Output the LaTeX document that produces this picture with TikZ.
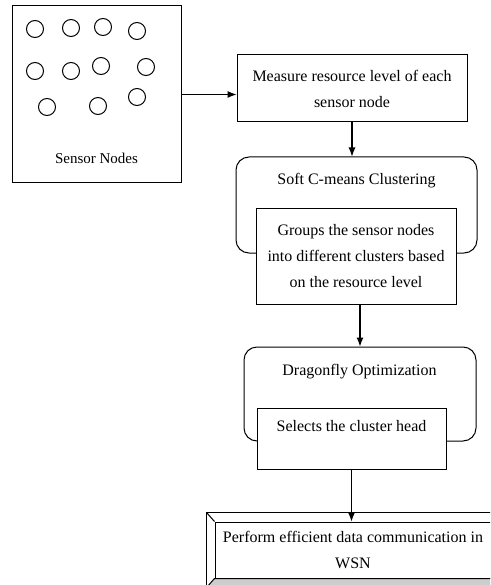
\documentclass[tikz,border=0pt]{standalone}
\usepackage{fontspec}
\setmainfont{Liberation Serif}
\usepackage{tikz}
\usetikzlibrary{arrows.meta}
\definecolor{bevelgray}{RGB}{205,205,205}

\begin{document}
\begin{tikzpicture}[x=1pt,y=-1pt,line width=1pt,>={Latex[length=9pt,width=7pt]},
    font=\fontsize{16}{26}\selectfont,
    sensor/.style={circle,draw,minimum size=17pt,inner sep=0pt},
    stepbox/.style={rectangle,draw,fill=white,align=center},
    groupbox/.style={rectangle,draw,rounded corners=13pt},
    flow/.style={line width=1.1pt,->}]
\useasboundingbox (0,0) rectangle (490,585);
\clip (0,0) rectangle (490,585);
% sensor field
\node (sensors) at (96.5,94.5) [rectangle,draw,minimum width=169,minimum height=177] {};
\node (s1)  at (35,29)  [sensor] {};
\node (s2)  at (71,28)  [sensor] {};
\node (s3)  at (103,27) [sensor] {};
\node (s4)  at (137,31) [sensor] {};
\node (s5)  at (35,71)  [sensor] {};
\node (s6)  at (71,71)  [sensor] {};
\node (s7)  at (101,66) [sensor] {};
\node (s8)  at (146,67) [sensor] {};
\node (s9)  at (47,107) [sensor] {};
\node (s10) at (98,106) [sensor] {};
\node (s11) at (137,97) [sensor] {};
\node (sensorlabel) at (96.5,158) [font=\fontsize{15}{20}\selectfont] {Sensor Nodes};
% processing steps
\node (measure) at (352,88.5) [stepbox,minimum width=230,minimum height=67]
    {Measure resource level of each\\ sensor node};
\node (soft) at (356.5,205) [groupbox,minimum width=241,minimum height=96] {};
\node (softtitle) at (356.5,181) {Soft C-means Clustering};
\node (groups) at (356,256) [stepbox,minimum width=200,minimum height=96]
    {Groups the sensor nodes\\ into different clusters based\\ on the resource level};
\node (dragon) at (360,394) [groupbox,minimum width=232,minimum height=94] {};
\node (dragontitle) at (359.5,372) {Dragonfly Optimization};
\node (selects) at (351.5,438.5) [stepbox,minimum width=189,minimum height=61]
    {Selects the cluster head\\ \mbox{}};
\node (perform) at (353,550) [rectangle,draw,minimum width=276,minimum height=56,align=center]
    {Perform efficient data communication in\\ WSN};
% bevel round the last box
\draw [fill=bevelgray] (perform.south west) -- ++(-8,9) -- ++(292,0) -- (perform.south east) -- cycle;
\draw (perform.north west) ++(-8,-9) rectangle ++(292,74);
\draw (perform.north west) -- ++(-8,-9);
\draw (perform.north east) -- ++(8,-9);
% connectors
\draw [flow] (sensors.east) -- (sensors.east -| measure.west);
\draw [flow] (measure.south) -- (measure.south |- soft.north);
\draw [flow] (dragon.north |- groups.south) -- (dragon.north);
\draw [flow] (selects.south) -- (selects.south |- perform.north);
\end{tikzpicture}
\end{document}
